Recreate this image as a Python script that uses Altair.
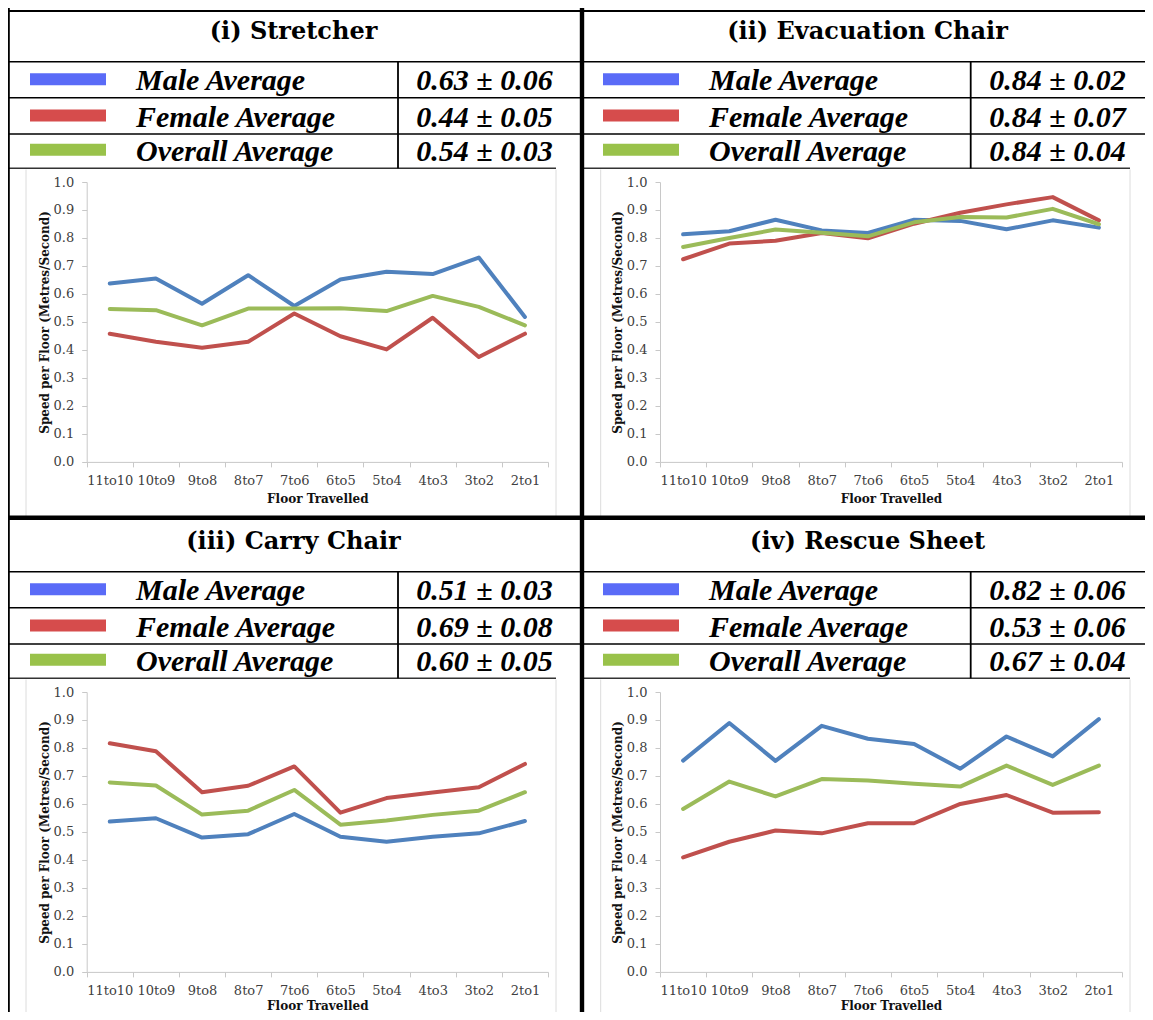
import altair as alt
import pandas as pd

# ---------------- data ----------------
FLOORS = ["11to10", "10to9", "9to8", "8to7", "7to6", "6to5", "5to4", "4to3", "3to2", "2to1"]
SERIES = ["Male Average", "Female Average", "Overall Average"]
LINE_COLORS = ["#4F81BD", "#C0504D", "#9BBB59"]
SWATCH_COLORS = ["#5A6BF7", "#D64C4C", "#99C24A"]
TITLES = ["(i) Stretcher", "(ii) Evacuation Chair", "(iii) Carry Chair", "(iv) Rescue Sheet"]

STRETCHER_MALE = [0.637, 0.655, 0.565, 0.667, 0.557, 0.652, 0.679, 0.671, 0.730, 0.518]
STRETCHER_FEMALE = [0.458, 0.429, 0.408, 0.429, 0.530, 0.449, 0.402, 0.515, 0.375, 0.458]
STRETCHER_OVERALL = [0.546, 0.542, 0.488, 0.548, 0.548, 0.549, 0.539, 0.593, 0.554, 0.488]

EVAC_MALE = [0.813, 0.824, 0.865, 0.827, 0.818, 0.865, 0.861, 0.831, 0.863, 0.837]
EVAC_FEMALE = [0.724, 0.780, 0.790, 0.818, 0.799, 0.851, 0.890, 0.920, 0.946, 0.863]
EVAC_OVERALL = [0.768, 0.800, 0.830, 0.819, 0.806, 0.856, 0.875, 0.873, 0.904, 0.849]

CARRY_MALE = [0.537, 0.549, 0.480, 0.492, 0.564, 0.483, 0.465, 0.483, 0.495, 0.539]
CARRY_FEMALE = [0.817, 0.788, 0.642, 0.665, 0.734, 0.569, 0.621, 0.641, 0.660, 0.743]
CARRY_OVERALL = [0.677, 0.666, 0.562, 0.576, 0.650, 0.526, 0.541, 0.561, 0.576, 0.642]

RESCUE_MALE = [0.755, 0.889, 0.754, 0.879, 0.833, 0.814, 0.726, 0.841, 0.770, 0.903]
RESCUE_FEMALE = [0.409, 0.465, 0.505, 0.495, 0.531, 0.531, 0.600, 0.632, 0.569, 0.570]
RESCUE_OVERALL = [0.582, 0.680, 0.627, 0.689, 0.684, 0.672, 0.662, 0.737, 0.668, 0.737]

STRETCHER_STATS = ["0.63 ± 0.06", "0.44 ± 0.05", "0.54 ± 0.03"]
EVAC_STATS = ["0.84 ± 0.02", "0.84 ± 0.07", "0.84 ± 0.04"]
CARRY_STATS = ["0.51 ± 0.03", "0.69 ± 0.08", "0.60 ± 0.05"]
RESCUE_STATS = ["0.82 ± 0.06", "0.53 ± 0.06", "0.67 ± 0.04"]

Y_TICKS = [0.0, 0.1, 0.2, 0.3, 0.4, 0.5, 0.6, 0.7, 0.8, 0.9, 1.0]

ONE = pd.DataFrame({"k": [0]})

AXIS_FONT = "DejaVu Serif"
HEAD_FONT = "Liberation Serif"
TITLE_FONT = "DejaVu Serif"

TOTAL_W, TOTAL_H = 1137, 1004

LEFT = dict(x0=0, W=572, border_x=0.6, border_w=2.4, divider_x=390, sw0=22, sw1=98, label_x=128,
            value_cx=476.5, title_cx=285.5, px0=78.7, px1=540, ax0=18, ax1=548)
RIGHT = dict(x0=572, W=565, border_x=2.0, border_w=4.4, divider_x=390.7, sw0=23, sw1=99, label_x=129,
             value_cx=477.5, title_cx=287.5, px0=80, px1=542, ax0=20.7, ax1=550)
TOP = dict(y0=0, H=512, T=53.7, top_border=3.0, thick=509.75, xtitle_pad=6)
BOTTOM = dict(y0=512, H=492, T=51.7, top_border=None, thick=None, xtitle_pad=3)


def hrule(x0, x1, y, w, color="black"):
    return alt.Chart(ONE).mark_rule(strokeWidth=w, color=color).encode(
        x=alt.value(x0), x2=alt.value(x1), y=alt.value(y))


def vrule(x, y0, y1, w, color="black"):
    return alt.Chart(ONE).mark_rule(strokeWidth=w, color=color).encode(
        x=alt.value(x), y=alt.value(y0), y2=alt.value(y1))


def panel(title, male, female, overall, stats, hl, vl):
    ox, oy = hl["x0"], vl["y0"]
    W, H, T = hl["W"], vl["H"], oy + vl["T"]
    row_bottoms = [T + 36, T + 72.3, T + 106.6]
    pt, pb = T + 120.3, T + 400.2
    px0, px1 = ox + hl["px0"], ox + hl["px1"]

    df = pd.DataFrame({
        "floor": FLOORS * 3,
        "series": [SERIES[0]] * 10 + [SERIES[1]] * 10 + [SERIES[2]] * 10,
        "value": male + female + overall,
    })
    legend_df = pd.DataFrame({"idx": [0, 1, 2], "label": SERIES, "stat": stats})

    lines = alt.Chart(df).mark_line(strokeWidth=4, strokeJoin="round", strokeCap="round").encode(
        x=alt.X("floor:N", sort=FLOORS, bandPosition=0.5,
                scale=alt.Scale(type="band", domain=FLOORS, range=[px0, px1],
                                paddingInner=0, paddingOuter=0),
                axis=alt.Axis(title="Floor Travelled", orient="bottom", labelAngle=0, tickBand="extent",
                              offset=pb - TOTAL_H, domainColor="#c8c8c8", tickColor="#c8c8c8",
                              tickSize=5, labelPadding=8, labelFont=AXIS_FONT, labelFontSize=13,
                              labelColor="#404040", titleFont=AXIS_FONT, titleFontSize=12,
                              titleFontWeight="bold", titleColor="#111111",
                              titlePadding=vl["xtitle_pad"], grid=False)),
        y=alt.Y("value:Q",
                scale=alt.Scale(domain=[0, 1], range=[pb, pt], nice=False, zero=False),
                axis=alt.Axis(title="Speed per Floor (Metres/Second)", orient="left", values=Y_TICKS,
                              format=".1f", offset=-px0, domainColor="#c8c8c8", tickColor="#c8c8c8",
                              tickSize=5, labelPadding=8, labelFont=AXIS_FONT, labelFontSize=13,
                              labelColor="#404040", titleFont=AXIS_FONT, titleFontSize=12,
                              titleFontWeight="bold", titleColor="#111111", titlePadding=2,
                              grid=False)),
        color=alt.Color("series:N", scale=alt.Scale(domain=SERIES, range=LINE_COLORS), legend=None),
    )

    layers = []
    # chart area (light frame)
    layers.append(vrule(ox + hl["ax0"], row_bottoms[2] + 1.2, oy + H, 1, "#dcdcdc"))
    layers.append(vrule(ox + hl["ax1"], row_bottoms[2] + 1.2, oy + H, 1, "#dcdcdc"))
    # table lines
    if vl["top_border"] is not None:
        layers.append(hrule(ox, ox + W, oy + vl["top_border"], 2))
    layers.append(hrule(ox, ox + W, T, 1.6))
    layers.append(hrule(ox, ox + W, row_bottoms[0], 1.6))
    layers.append(hrule(ox, ox + W, row_bottoms[1], 1.6))
    layers.append(hrule(ox, ox + hl["ax1"], row_bottoms[2], 1.4, "#333333"))
    layers.append(vrule(ox + hl["divider_x"], T, row_bottoms[2], 1.8))
    layers.append(vrule(ox + hl["border_x"], oy, oy + H, hl["border_w"]))
    if vl["thick"] is not None:
        layers.append(hrule(ox, ox + W, oy + vl["thick"], 4.5))

    # title
    layers.append(alt.Chart(pd.DataFrame({"title": [title]})).mark_text(
        font=TITLE_FONT, fontSize=24, fontWeight="bold", align="center", baseline="alphabetic",
        color="black").encode(text="title:N", x=alt.value(ox + hl["title_cx"]), y=alt.value(T - 23)))

    # legend rows
    for i in range(3):
        rb = row_bottoms[i]
        layers.append(alt.Chart(ONE).mark_rect().encode(
            x=alt.value(ox + hl["sw0"]), x2=alt.value(ox + hl["sw1"]),
            y=alt.value(rb - 24.5), y2=alt.value(rb - 12.5), color=alt.value(SWATCH_COLORS[i])))
        layers.append(alt.Chart(legend_df).transform_filter(f"datum.idx == {i}").mark_text(
            font=HEAD_FONT, fontSize=30, fontWeight="bold", fontStyle="italic", align="left",
            baseline="alphabetic", color="black").encode(
            text="label:N", x=alt.value(ox + hl["label_x"]), y=alt.value(rb - 7.5)))
        layers.append(alt.Chart(legend_df).transform_filter(f"datum.idx == {i}").mark_text(
            font=HEAD_FONT, fontSize=30, fontWeight="bold", fontStyle="italic", align="center",
            baseline="alphabetic", color="black").encode(
            text="stat:N", x=alt.value(ox + hl["value_cx"]), y=alt.value(rb - 7.5)))

    return layers, lines


all_deco = []
all_lines = []
for args in [
    (TITLES[0], STRETCHER_MALE, STRETCHER_FEMALE, STRETCHER_OVERALL, STRETCHER_STATS, LEFT, TOP),
    (TITLES[1], EVAC_MALE, EVAC_FEMALE, EVAC_OVERALL, EVAC_STATS, RIGHT, TOP),
    (TITLES[2], CARRY_MALE, CARRY_FEMALE, CARRY_OVERALL, CARRY_STATS, LEFT, BOTTOM),
    (TITLES[3], RESCUE_MALE, RESCUE_FEMALE, RESCUE_OVERALL, RESCUE_STATS, RIGHT, BOTTOM),
]:
    deco, ln = panel(*args)
    all_deco += deco
    all_lines.append(ln)

chart = alt.layer(*all_deco, *all_lines).resolve_scale(
    x="independent", y="independent"
).resolve_axis(
    x="independent", y="independent"
).properties(
    width=TOTAL_W, height=TOTAL_H, padding=0, background="white",
    autosize=alt.AutoSizeParams(type="none"),
).configure_view(stroke=None)

chart.save("out.html", embed_options={"renderer": "svg", "actions": False})
